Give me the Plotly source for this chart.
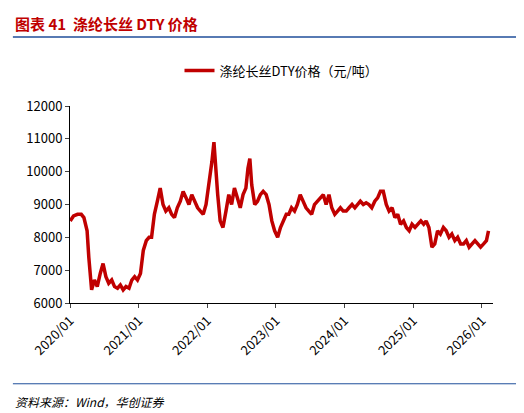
import plotly.graph_objects as go

dates = [
    "2020-01-02", "2020-01-20", "2020-02-10", "2020-03-01", "2020-03-15", "2020-04-01", "2020-04-10",
    "2020-04-25", "2020-05-10", "2020-05-25", "2020-06-10", "2020-06-25", "2020-07-10", "2020-07-25",
    "2020-08-10", "2020-08-25", "2020-09-10", "2020-09-25", "2020-10-10", "2020-10-25", "2020-11-10",
    "2020-11-25", "2020-12-10", "2020-12-25", "2021-01-10", "2021-01-25", "2021-02-10", "2021-02-25",
    "2021-03-10", "2021-03-25", "2021-04-10", "2021-04-25", "2021-05-10", "2021-05-25", "2021-06-10",
    "2021-06-25", "2021-07-10", "2021-07-25", "2021-08-10", "2021-08-25", "2021-09-10", "2021-09-25",
    "2021-10-10", "2021-10-25", "2021-11-10", "2021-11-25", "2021-12-10", "2021-12-25", "2022-01-10",
    "2022-01-25", "2022-02-05", "2022-02-15", "2022-02-25", "2022-03-10", "2022-03-25", "2022-04-10",
    "2022-04-25", "2022-05-10", "2022-05-25", "2022-06-10", "2022-06-25", "2022-07-10", "2022-07-25",
    "2022-08-05", "2022-08-15", "2022-08-25", "2022-09-10", "2022-09-25", "2022-10-10", "2022-10-25",
    "2022-11-10", "2022-11-25", "2022-12-10", "2022-12-25", "2023-01-10", "2023-01-25", "2023-02-10",
    "2023-02-25", "2023-03-10", "2023-03-25", "2023-04-10", "2023-04-25", "2023-05-10", "2023-05-25",
    "2023-06-10", "2023-06-25", "2023-07-10", "2023-07-25", "2023-08-10", "2023-08-25", "2023-09-10",
    "2023-09-25", "2023-10-10", "2023-10-25", "2023-11-10", "2023-11-25", "2023-12-10", "2023-12-25",
    "2024-01-10", "2024-01-25", "2024-02-10", "2024-02-25", "2024-03-10", "2024-03-25", "2024-04-10",
    "2024-04-25", "2024-05-10", "2024-05-25", "2024-06-10", "2024-06-25", "2024-07-10", "2024-07-25",
    "2024-08-10", "2024-08-25", "2024-09-10", "2024-09-25", "2024-10-10", "2024-10-25", "2024-11-10",
    "2024-11-25", "2024-12-10", "2024-12-25", "2025-01-10", "2025-01-25", "2025-02-10", "2025-02-25",
    "2025-03-10", "2025-03-25", "2025-04-10", "2025-04-25", "2025-05-10", "2025-05-25", "2025-06-10",
    "2025-06-25", "2025-07-10", "2025-07-25", "2025-08-10", "2025-08-25", "2025-09-10", "2025-09-25",
    "2025-10-10", "2025-10-25", "2025-11-10", "2025-11-25", "2025-12-10", "2025-12-25", "2026-01-10",
    "2026-01-25", "2026-02-05",
]
price = [
    8500, 8650, 8700, 8700, 8600, 8200, 7400,
    6400, 6700, 6500, 6900, 7200, 6800, 6600,
    6700, 6500, 6450, 6550, 6400, 6500, 6450,
    6700, 6800, 6700, 6900, 7600, 7900, 8000,
    8000, 8700, 9100, 9500, 9000, 8800, 8900,
    8700, 8600, 8900, 9100, 9400, 9200, 9000,
    9300, 9100, 8900, 8800, 8700, 9000, 9600,
    10300, 10900, 10000, 9300, 8500, 8300, 8800,
    9300, 9000, 9500, 9200, 8900, 9300, 9500,
    10100, 10400, 9600, 9000, 9100, 9300, 9400,
    9300, 9000, 8500, 8200, 8000, 8300, 8500,
    8700, 8700, 8900, 8800, 9000, 9300, 9100,
    8900, 8800, 8700, 9000, 9100, 9200, 9300,
    9000, 9300, 8900, 8700, 8800, 8900, 8800,
    8800, 8900, 9000, 8900, 9000, 9100, 9000,
    9050, 9000, 8900, 9100, 9200, 9400, 9400,
    9000, 8800, 8900, 8600, 8700, 8400, 8500,
    8300, 8200, 8400, 8300, 8400, 8500, 8400,
    8500, 8300, 7700, 7800, 8200, 8100, 8300,
    8200, 8000, 8100, 7900, 8000, 7800, 7800,
    7900, 7700, 7800, 7900, 7800, 7700, 7800,
    7900, 8200,
]

ticks = ["2020-01-01", "2021-01-01", "2022-01-01", "2023-01-01", "2024-01-01", "2025-01-01", "2026-01-01"]
tick_text = ["2020/01", "2021/01", "2022/01", "2023/01", "2024/01", "2025/01", "2026/01"]

font = "Noto Sans CJK SC"
fig = go.Figure()
fig.add_trace(go.Scatter(x=dates, y=price, mode="lines", line=dict(color="#C00000", width=3.5),
                         name="涤纶长丝DTY价格（元/吨）"))
fig.update_layout(
    width=524, height=413, plot_bgcolor="white", paper_bgcolor="white",
    margin=dict(l=62, r=39, t=98, b=118),
    font=dict(family=font, size=13, color="black"),
    showlegend=True,
    legend=dict(orientation="h", x=0.5, xanchor="center", y=1.18, yanchor="middle", font=dict(size=13)),
    xaxis=dict(tickvals=ticks, ticktext=tick_text, tickangle=-45, showgrid=False, showline=True,
               linecolor="black", ticks="outside", ticklen=4, range=["2020-01-01", "2026-03-01"],
               tickfont=dict(size=13)),
    yaxis=dict(range=[6000, 12000], dtick=1000, tickformat="d", showgrid=False, showline=True,
               linecolor="black", ticks="outside", ticklen=4),
    shapes=[
        dict(type="line", xref="paper", yref="paper", x0=-0.135, x1=1.08, y0=1.35, y1=1.35,
             line=dict(color="#1F4E9A", width=1.5)),
        dict(type="line", xref="paper", yref="paper", x0=-0.135, x1=1.08, y0=-0.41, y1=-0.41,
             line=dict(color="#1F4E9A", width=1)),
    ],
    annotations=[
        dict(text="<b>图表 41  涤纶长丝 DTY 价格</b>", xref="paper", yref="paper", x=-0.135, y=1.42,
             xanchor="left", yanchor="middle", showarrow=False, font=dict(size=15, color="#C00000")),
        dict(text="<i>资料来源：Wind，华创证券</i>", xref="paper", yref="paper", x=-0.135, y=-0.5,
             xanchor="left", yanchor="middle", showarrow=False, font=dict(size=12, color="black")),
    ],
)
fig.write_html("out.html")
